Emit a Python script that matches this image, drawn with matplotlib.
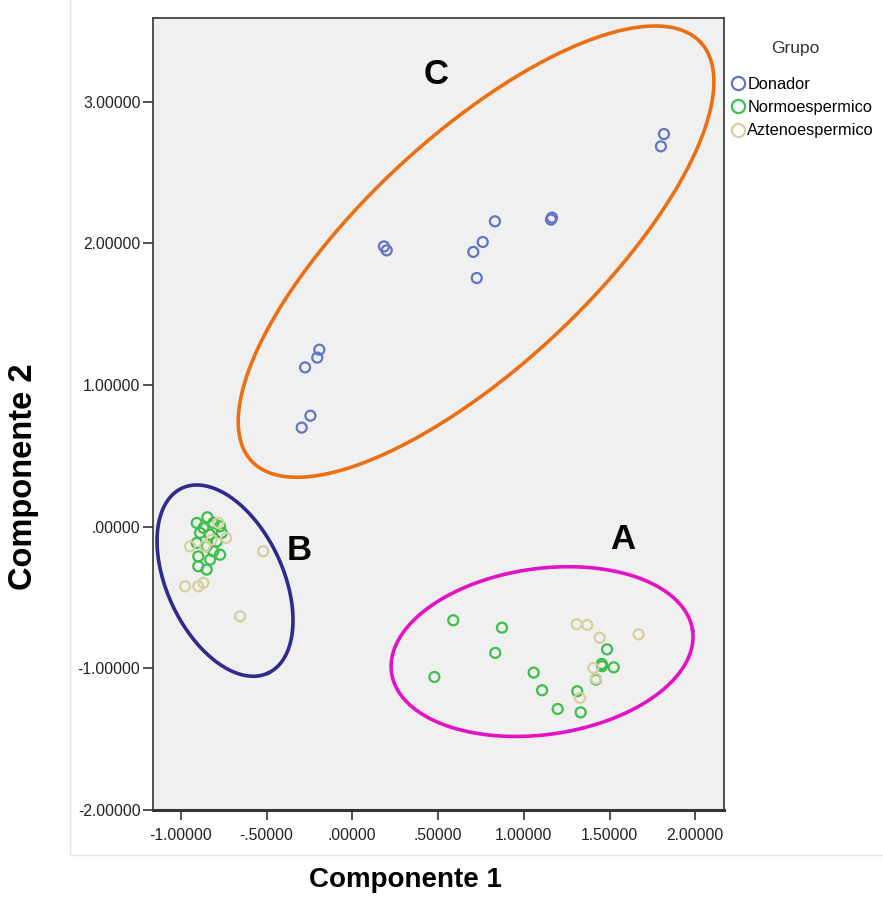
import numpy as np
import matplotlib
matplotlib.use("Agg")
import matplotlib.pyplot as plt
from matplotlib.ticker import FuncFormatter, FixedLocator
from matplotlib.lines import Line2D

# ---- data ----
donador_x = [-0.296, -0.245, -0.276, -0.205, -0.193, 0.184, 0.200, 0.705, 0.760,
             0.831, 0.725, 1.158, 1.164, 1.817, 1.799]
donador_y = [0.699, 0.783, 1.124, 1.193, 1.249, 1.978, 1.950, 1.939, 2.009,
             2.155, 1.755, 2.167, 2.181, 2.771, 2.684]

normo_x = [0.588, 0.872, 0.833, 0.478, 1.057, 1.106, 1.197, 1.311, 1.331, 1.485,
           1.454, 1.524, 1.420, 1.456,
           -0.908, -0.846, -0.811, -0.772, -0.762, -0.889, -0.832, -0.908, -0.850,
           -0.791, -0.811, -0.899, -0.772, -0.899, -0.850, -0.869, -0.830]
normo_y = [-0.661, -0.713, -0.891, -1.061, -1.030, -1.155, -1.287, -1.162, -1.311, -0.866,
           -0.969, -0.993, -1.080, -0.985,
           0.026, 0.066, 0.026, 0.002, -0.044, -0.044, -0.056, -0.115, -0.139,
           -0.104, -0.174, -0.210, -0.198, -0.280, -0.303, -0.009, -0.233]

azteno_x = [1.308, 1.370, 1.442, 1.669, 1.405, 1.420, 1.327,
            -0.782, -0.737, -0.947, -0.859, -0.520, -0.976, -0.899, -0.869, -0.655, -0.820]
azteno_y = [-0.689, -0.694, -0.785, -0.760, -0.997, -1.073, -1.209,
            0.026, -0.080, -0.139, -0.139, -0.174, -0.421, -0.421, -0.397, -0.633, -0.092]

groups = ["Donador", "Normoespermico", "Aztenoespermico"]
group_colors = ["#6275c4", "#3cbf4c", "#d6cf9f"]

x_ticks = [-1.0, -0.5, 0.0, 0.5, 1.0, 1.5, 2.0]
y_ticks = [-2.0, -1.0, 0.0, 1.0, 2.0, 3.0]

# cluster ellipses: label, center (data), semi-axes (px), angle (deg), colour, label pos
clusters = [
    ("C", (0.721, 1.941), 307, 115, 43, "#ec6f12", (0.487, 3.19)),
    ("B", (-0.743, -0.381), 102, 58, -65, "#2f2a8e", (-0.311, -0.169)),
    ("A", (1.106, -0.882), 152, 83, 8, "#e312c6", (1.578, -0.092)),
]

W, H, DPI = 883, 897, 100
font = ["Liberation Sans", "DejaVu Sans"]

fig = plt.figure(figsize=(W / DPI, H / DPI), dpi=DPI)
fig.patch.set_facecolor("white")
ax = fig.add_axes([153 / W, 1 - 810 / H, (724 - 153) / W, (810 - 18) / H])
ax.set_facecolor("#f0f0f0")
ax.set_xlim(-1.163, 2.167)
ax.set_ylim(-2.0, 3.59)

# faint outer frame of the chart panel
fig.add_artist(Line2D([70 / W, 70 / W], [1 - 855 / H, 1.0], color="#e4e4e4", lw=1))
fig.add_artist(Line2D([70 / W, 1.0], [1 - 855 / H, 1 - 855 / H], color="#e4e4e4", lw=1))

series = [(donador_x, donador_y), (normo_x, normo_y), (azteno_x, azteno_y)]
for (xs, ys), name, col in zip(series, groups, group_colors):
    ax.scatter(xs, ys, s=52, facecolors="none", edgecolors=col, linewidths=1.6,
               label=name, zorder=3)

# ellipses drawn in pixel space, converted to data units
sx = ax.get_position().width * W / (ax.get_xlim()[1] - ax.get_xlim()[0])
sy = ax.get_position().height * H / (ax.get_ylim()[1] - ax.get_ylim()[0])
t = np.linspace(0, 2 * np.pi, 400)
for lab, (cx, cy), a, b, ang, col, (lx, ly) in clusters:
    th = np.deg2rad(ang)
    ex = cx + (a * np.cos(t) * np.cos(th) - b * np.sin(t) * np.sin(th)) / sx
    ey = cy + (a * np.cos(t) * np.sin(th) + b * np.sin(t) * np.cos(th)) / sy
    ax.plot(ex, ey, color=col, lw=2.6, clip_on=False, zorder=4)
    ax.text(lx, ly, lab, fontsize=25, fontweight="bold", family=font,
            ha="center", va="center", color="black", zorder=5)

def spss_fmt(v, pos):
    s = f"{v:.5f}"
    return s.replace("-0.", "-.") if s.startswith("-0.") else (s[1:] if s.startswith("0.") else s)

ax.xaxis.set_major_locator(FixedLocator(x_ticks))
ax.yaxis.set_major_locator(FixedLocator(y_ticks))
ax.xaxis.set_major_formatter(FuncFormatter(spss_fmt))
ax.yaxis.set_major_formatter(FuncFormatter(spss_fmt))
ax.tick_params(axis="both", direction="out", length=7, width=1.2, color="#333333",
               labelsize=11.3, labelcolor="#222222")
ax.tick_params(axis="x", pad=6)
ax.tick_params(axis="y", pad=2)
for lbl in ax.get_xticklabels() + ax.get_yticklabels():
    lbl.set_family(font)
for sp in ax.spines.values():
    sp.set_color("#333333")
    sp.set_linewidth(1.2)
ax.spines["bottom"].set_linewidth(2.2)

fig.text(405 / W, 1 - 880 / H, "Componente 1", ha="center", va="center",
         fontsize=20, fontweight="bold", family=font)
fig.text(24 / W, 1 - 477 / H, "Componente 2", ha="center", va="center", rotation=90,
         fontsize=23.5, fontweight="bold", family=font)

# legend outside the plot, top right
fig.text(795 / W, 1 - 48 / H, "Grupo", ha="center", va="center",
         fontsize=12.5, family=font, color="#333333")
handles = [Line2D([], [], marker="o", ls="none", markersize=9.5, markerfacecolor="none",
                  markeredgecolor=c, markeredgewidth=1.6) for c in group_colors]
leg = fig.legend(handles, groups, loc="upper left",
                 bbox_to_anchor=(731 / W, 1 - 77 / H), frameon=False,
                 borderpad=0, borderaxespad=0,
                 handlelength=0.8, handletextpad=0.2, labelspacing=0.5,
                 prop={"family": font, "size": 11.8})

fig.savefig("out.png", dpi=DPI)
